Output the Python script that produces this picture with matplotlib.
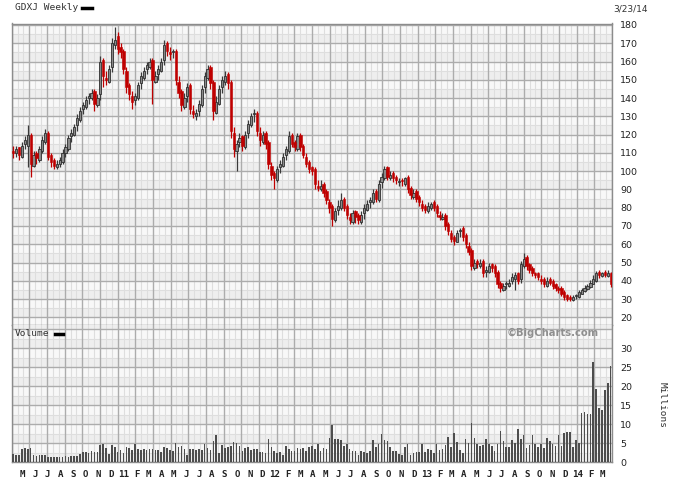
import matplotlib
matplotlib.use('Agg')
import matplotlib.pyplot as plt
import numpy as np
import pandas as pd

# ---------------- data ----------------
first_week = '2010-04-09'
last_week = '2014-03-21'
title = 'GDXJ Weekly'
date_label = '3/23/14'

closes = [110,112,109,114,117,120,104,109,107,112,
          117,121,108,105,103,104,106,110,113,118,
          121,124,129,133,136,139,141,143,137,140,
          160,152,150,156,170,172,167,165,156,146,
          142,138,141,147,152,155,158,160,150,152,
          156,160,169,166,164,165,150,143,136,140,
          146,134,131,132,137,145,152,156,148,133,
          138,145,150,152,148,122,112,115,118,114,
          120,126,130,131,122,117,120,115,104,98,
          96,101,104,108,112,119,115,113,119,113,
          109,104,101,100,93,91,92,88,84,80,
          74,78,81,84,80,76,73,77,75,73,
          76,80,82,84,88,85,93,97,101,97,
          98,96,95,94,94.5,96,90,87,88,85,
          83,80,79,81,82,80,77,75,75,70,
          67,63,62,66,68,64,60,56,48,50,
          49,50,44,46,48,47,44,38,36,37,
          38,39,42,43,40,49,52,48,46,44,
          43,42,40,38,40,39,37,36,35,33,
          31,30,30,31,32,34,35,36,37,39,
          41,44,43,44,43,44,38]

opens = [111,110,113,108,115,114,120,103,110,106,
         111,116,121,109,106,102,104,105,110,112,
         119,120,125,128,134,135,140,140,144,136,
         142,161,151,149,157,169,174,168,166,155,
         147,141,139,140,148,151,156,157,161,149,
         153,155,161,170,165,165,166,149,144,135,
         141,147,133,130,133,136,146,151,157,149,
         132,137,146,149,153,149,121,111,116,119,
         113,121,125,131,132,121,116,121,116,103,
         99,95,102,103,109,111,120,116,112,120,
         114,108,105,102,101,92,90,93,89,83,
         81,73,79,80,85,81,75,72,78,76,
         72,77,79,83,83,89,84,94,96,102,
         96,99,97,94,95,93,97,91,86,89,
         86,82,81,78,80,83,81,76,74,76,
         71,66,64,61,67,69,65,59,57,47,
         51,48,51,45,45,49,48,45,39,35,
         38,37,40,41,44,41,48,53,49,47,
         44,44,41,41,37,41,40,38,36,36,
         34,32,31,29.5,31.5,31,33,34.5,35.5,36.5,
         38.5,40,45,42.5,45,42.5,44.5]

highs = [114,114,113,116,119,125,121,111,111,114,
         119,123,122,110,107,106,108,112,115,120,
         123,126,131,135,138,141,143,145,145,142,
         163,162,155,158,173,179,176,170,167,157,
         148,144,143,149,154,157,160,162,162,155,
         158,162,172,171,168,167,167,152,145,143,
         148,148,136,134,139,147,154,158,158,150,
         141,147,152,155,154,150,124,117,121,120,
         122,128,132,134,133,124,122,122,117,105,
         100,103,106,110,114,122,121,117,121,121,
         115,110,106,103,102,95,95,94,90,85,
         82,80,84,88,86,82,77,79,79,77,
         78,82,84,86,90,90,95,99,103,103,
         100,100,98,96,96,97,98,92,90,90,
         87,84,82,83,83,84,82,78,77,77,
         72,68,65,68,69,70,66,61,58,52,
         52,52,52,48,50,50,49,46,40,39,
         40,41,44,45,45,51,55,54,50,48,
         45,45,43,42,42,42,41,39,37,37,
         35,33,32,32,33,35,36,37.5,38.5,40.5,
         43,45.5,46,45,46,46,45]

lows = [107,108,106,107,112,102,97,102,104,105,
        110,115,106,102,101,101,102,104,108,111,
        116,119,122,127,131,134,137,139,133,135,
        139,146,147,148,154,167,164,162,153,143,
        139,134,136,139,145,150,153,156,137,148,
        150,154,158,163,161,162,147,140,133,134,
        138,131,129,128,130,135,143,150,145,128,
        131,136,143,147,145,118,108,100,113,111,
        112,118,124,127,119,114,115,112,101,95,
        90,94,99,102,106,110,113,111,111,111,
        107,102,99,98,90,89,89,86,82,77,
        70,72,76,79,78,74,71,71,71.5,71,
        71,74,78,80,82,83,83,91,95,95,
        95,94,93,92,92,92,88,85,85,83,
        81,78,77,77,79,78,75,73,73,68,
        65,61,59.5,61,64,62,58,54,46,46,
        47,47,42,42,44,45,42,36,34,34.5,
        35.5,36.5,38,35,38,39,47,46,44,42.5,
        41.5,40.5,38.5,36.5,36.5,37.5,35.5,34.5,33.5,31.5,
        29.5,29,29,29,30,30.5,32.5,34,35,36,
        38,39.5,41.5,42,42,42,36.5]

volume_millions = [2.2,1.9,2.0,3.4,3.8,3.5,3.8,2.0,1.6,1.8,
                   1.8,1.8,1.3,1.4,1.3,1.5,1.4,1.5,1.6,1.5,
                   1.6,1.6,1.7,2.3,2.6,2.8,2.5,2.9,2.7,2.6,
                   4.5,4.8,3.8,2.2,4.5,4.0,2.6,3.2,2.5,4.0,
                   3.7,3.2,4.8,3.4,3.3,3.4,3.3,3.4,3.6,3.2,
                   3.3,2.8,4.0,3.8,3.2,3.0,5.2,4.0,4.2,3.6,
                   2.0,3.4,3.6,3.3,3.4,3.2,4.8,3.7,3.3,5.5,
                   7.2,2.5,4.6,3.8,4.0,4.3,5.4,5.2,4.3,3.0,
                   3.7,4.1,3.3,3.6,3.5,2.8,2.6,2.5,6.1,4.0,
                   3.0,2.5,2.6,1.8,4.4,3.6,3.0,2.9,3.7,3.6,
                   3.7,3.0,4.0,4.3,3.5,4.8,3.0,3.7,3.6,6.4,
                   9.8,6.1,6.0,5.9,4.3,4.9,3.5,2.9,3.0,1.8,
                   3.0,2.6,2.5,3.0,5.8,4.1,4.8,7.4,5.9,5.5,
                   4.0,3.0,3.0,2.3,1.8,4.0,4.8,1.8,2.5,2.6,
                   2.6,4.8,2.6,3.4,3.2,2.5,4.7,3.3,3.4,4.6,
                   6.6,4.0,
                   7.7,5.4,3.2,2.4,6.1,5.1,10.3,6.5,4.8,4.3,
                   4.6,6.1,4.8,4.3,3.0,4.8,8.3,5.6,4.1,4.0,
                   5.8,5.2,8.8,6.1,7.2,3.8,4.6,7.2,4.8,4.0,
                   4.7,3.8,6.4,5.5,4.8,4.3,7.2,4.2,7.7,8.0,
                   8.0,4.0,5.8,5.2,13.0,13.2,12.6,12.8,26.5,19.3,
                   14.3,13.8,18.9,20.9,25.4]

price_ticks = [20, 30, 40, 50, 60, 70, 80, 90, 100, 110, 120, 130, 140, 150, 160, 170, 180]
volume_ticks = [0, 5, 10, 15, 20, 25, 30]
month_letters = {2: 'F', 3: 'M', 4: 'A', 5: 'M', 6: 'J', 7: 'J', 8: 'A',
                 9: 'S', 10: 'O', 11: 'N', 12: 'D'}
label_start = '2010-05-01'
label_end = '2014-03-01'

# ---------------- figure ----------------
W, H = 675, 479
fig = plt.figure(figsize=(W / 100, H / 100), dpi=100)
fig.patch.set_facecolor('white')


def fx(px):
    return px / W


def fy(py):
    return 1 - py / H


x_left, x_right = 11.7, 612.0
y_top, y_mid, y_bot = 23.5, 325.0, 462.3
axp = fig.add_axes([fx(x_left), fy(y_mid), fx(x_right - x_left), (y_mid - y_top) / H])
axv = fig.add_axes([fx(x_left), fy(y_bot), fx(x_right - x_left), (y_bot - y_mid) / H])

dates = pd.date_range(first_week, last_week, freq='7D')
n = len(dates)
idx = np.arange(n)
o = np.array(opens, float)
c = np.array(closes, float)
hi = np.array(highs, float)
lo = np.array(lows, float)
vol = np.array(volume_millions, float)

xlim = (-0.55, n - 1 + 0.45)
price_lim = (15.8, 180.8)
vol_lim = (0, 36.1)

major_col = '#acacac'
minor_col = '#dedede'


def draw_grid(ax, ylim, ystep):
    ax.set_xlim(*xlim)
    ax.set_ylim(*ylim)
    ax.set_facecolor('#f8f8f8')
    y = ylim[0] - (ylim[0] % ystep)
    while y < ylim[1]:
        ax.axhspan(y, y + ystep / 2, color='#eeeeee', lw=0, zorder=0)
        y += ystep
    xs = np.linspace(xlim[0], xlim[1], 35)
    step = xs[1] - xs[0]
    for xv in xs:
        ax.axvline(xv, color=major_col, lw=1.0, zorder=1)
        for f in (1 / 3, 2 / 3):
            ax.axvline(xv + f * step, color=minor_col, lw=0.8, zorder=0.9)
    yv = ylim[0] - (ylim[0] % ystep)
    while yv <= ylim[1] + 1e-9:
        ax.axhline(yv, color=major_col, lw=1.0, zorder=1)
        ax.axhline(yv + ystep / 2, color=minor_col, lw=0.8, zorder=0.9)
        yv += ystep
    for s in ax.spines.values():
        s.set_color('#8c8c8c')
        s.set_linewidth(1.0)
    ax.set_xticks([])
    ax.tick_params(axis='y', which='both', length=0, labelsize=6.8, pad=6,
                   left=False, labelleft=False, right=True, labelright=True,
                   labelcolor='#222222')


draw_grid(axp, price_lim, 10)
draw_grid(axv, vol_lim, 5)
axp.set_yticks(price_ticks)
axp.set_yticklabels([str(t) for t in price_ticks])
axv.set_yticks(volume_ticks)
axv.set_yticklabels([str(t) for t in volume_ticks])
axv.spines['top'].set_visible(False)

# candles
up = c >= o
up_face, up_edge = '#8a8a8a', '#2e2e2e'
dn_col = '#bf0000'
wick_cols = np.where(up, '#3a3a3a', dn_col)
axp.vlines(idx, lo, hi, colors=wick_cols, lw=0.9, zorder=3)
body_h = np.maximum(np.abs(c - o), 0.6)
axp.bar(idx[up], body_h[up], bottom=np.minimum(o, c)[up], width=0.8,
        color=up_face, edgecolor=up_edge, lw=0.6, zorder=4)
axp.bar(idx[~up], body_h[~up], bottom=np.minimum(o, c)[~up], width=0.8,
        color=dn_col, edgecolor=dn_col, lw=0.4, zorder=4)

# volume
axv.bar(idx, vol, width=0.55, color='#4d4d4d', zorder=3)

# month labels
months = pd.date_range(label_start, label_end, freq='MS')
for m in months:
    pos = (m - dates[0]).days / 7.0
    lab = month_letters[m.month] if m.month != 1 else m.strftime('%y')
    axv.text(pos, -0.055, lab, transform=axv.get_xaxis_transform(), ha='center', va='top',
             fontsize=6.6, family='DejaVu Sans Mono', fontweight='bold', color='#222222')

mono = 'DejaVu Sans Mono'
fig.text(fx(15), fy(8), title, ha='left', va='center', fontsize=6.8, family=mono, color='#333333')
fig.add_artist(plt.Line2D([fx(82), fx(92)], [fy(8), fy(8)], color='black', lw=2.5))
fig.text(fx(613), fy(9), date_label, ha='left', va='center', fontsize=6.5, color='#333333')
fig.text(fx(15), fy(334), 'Volume', ha='left', va='center', fontsize=6.8, family=mono, color='#333333')
fig.add_artist(plt.Line2D([fx(55), fx(63)], [fy(334), fy(334)], color='black', lw=2.5))
fig.text(fx(553), fy(333), '\u00a9BigCharts.com', ha='center', va='center', fontsize=7.2,
         fontweight='bold', color='#8f8f8f')
fig.text(fx(662), fy(405), 'Millions', ha='center', va='center', rotation=270,
         fontsize=6.8, family=mono, color='#333333')

fig.savefig('out.png', dpi=100)
